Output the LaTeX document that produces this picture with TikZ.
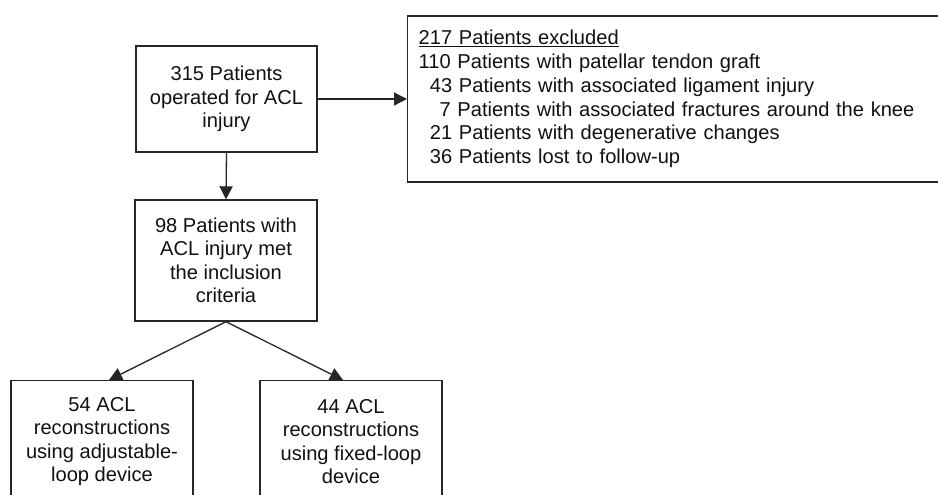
\documentclass[tikz,border=0pt]{standalone}
\usepackage{fontspec}
\setmainfont{Liberation Sans}
\usetikzlibrary{arrows.meta}
\definecolor{linec}{HTML}{262626}
\definecolor{textc}{HTML}{111111}
\tikzset{
  box/.style={draw=linec, line width=1.4pt, text=textc, align=center, inner sep=0pt,
    font=\fontsize{20.1}{23.5}\selectfont},
  conn/.style={draw=linec, line width=1.3pt, -{Triangle[length=13pt,width=13pt]}}
}
\begin{document}
\begin{tikzpicture}[x=1pt,y=-1pt]
\useasboundingbox (0,0) rectangle (938,495);
\clip (0,0) rectangle (938,495);
\fill[white] (0,0) rectangle (938,495);
\node[box, minimum width=181pt, minimum height=106pt] (b1) at (226.5,99) {315 Patients\\operated for ACL\\injury};
\node[box, minimum width=182pt, minimum height=121pt] (b2) at (226,260.5) {98 Patients with\\ACL injury met\\the inclusion\\criteria};
\node[box, minimum width=182pt, minimum height=122pt, anchor=north] (bl) at (102,380) {54 ACL\\reconstructions\\using adjustable-\\loop device};
\node[box, minimum width=182pt, minimum height=122pt, anchor=north] (br) at (351,380) {44 ACL\\reconstructions\\using fixed-loop\\device};
\node[box, anchor=west, minimum width=560pt, minimum height=166pt, align=left, text width=540pt, inner xsep=11pt,
  font=\fontsize{20.1}{23.8}\selectfont] (ex) at (407,99)
  {\underline{217 Patients excluded}\\
   110 Patients with patellar tendon graft\\
   \phantom{1}43 Patients with associated ligament injury\\
   \phantom{11}7 Patients with associated fractures around the knee\\
   \phantom{1}21 Patients with degenerative changes\\
   \phantom{1}36 Patients lost to follow-up};
\coordinate (blt) at (109,380);
\coordinate (brt) at (343,380);
\draw[conn] (b1.east) -- (b1.east -| ex.west);
\draw[conn] (b1.south) -- (b2.north);
\draw[conn] (b2.south) -- (blt);
\draw[conn] (b2.south) -- (brt);
\end{tikzpicture}
\end{document}
